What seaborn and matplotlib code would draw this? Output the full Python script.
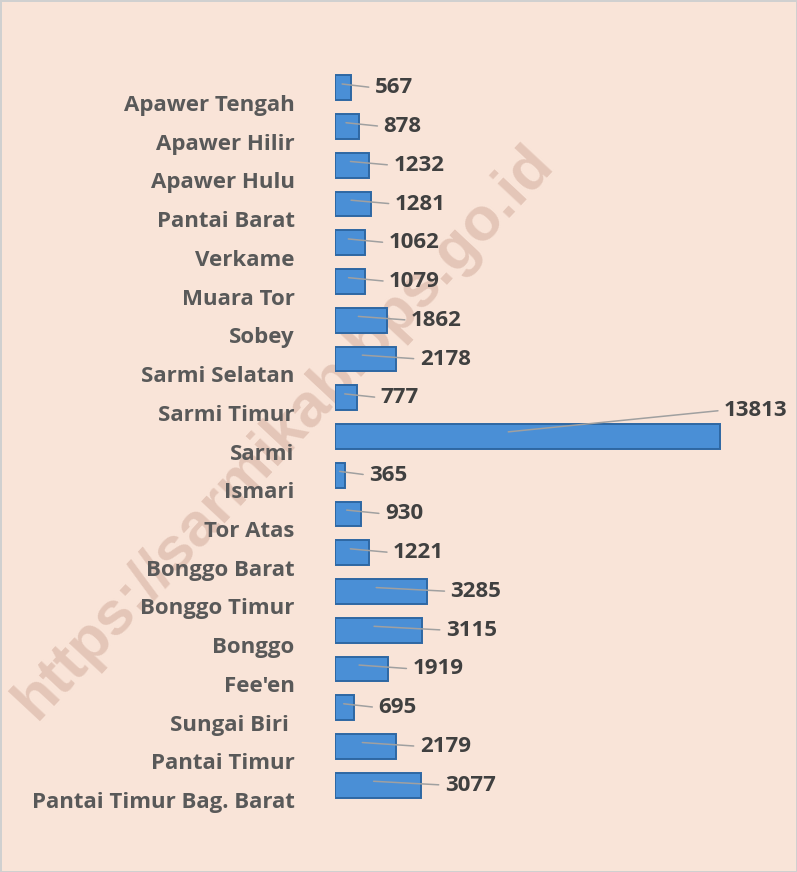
import matplotlib
matplotlib.use('Agg')
import matplotlib.pyplot as plt
import seaborn as sns
import pandas as pd
from matplotlib.transforms import ScaledTranslation

categories = ["Apawer Tengah", "Apawer Hilir", "Apawer Hulu", "Pantai Barat", "Verkame",
              "Muara Tor", "Sobey", "Sarmi Selatan", "Sarmi Timur", "Sarmi", "Ismari",
              "Tor Atas", "Bonggo Barat", "Bonggo Timur", "Bonggo", "Fee'en", "Sungai Biri ",
              "Pantai Timur", "Pantai Timur Bag. Barat"]
values = [567, 878, 1232, 1281, 1062, 1079, 1862, 2178, 777, 13813, 365, 930, 1221,
          3285, 3115, 1919, 695, 2179, 3077]

BG = '#F9E4D8'
sns.set_theme(style='white')
plt.rcParams['font.family'] = ['Open Sans', 'DejaVu Sans']

W, H = 797, 872
fig = plt.figure(figsize=(W / 100, H / 100), dpi=100, facecolor=BG,
                 edgecolor='#D0D0D0', linewidth=2)

ax = fig.add_axes([335 / W, 1 - 804.5 / H, 425 / W, 736 / H])
ax.set_zorder(1)
ax.patch.set_alpha(0)

df = pd.DataFrame({'kecamatan': categories, 'penduduk': values})
sns.barplot(data=df, y='kecamatan', x='penduduk', orient='h', color='#4A8FD6',
            saturation=1, width=0.64, edgecolor='#2E67A3', linewidth=1.4, ax=ax)

xmax = max(values) * 425 / 385
ax.set_xlim(0, xmax)
ax.set_ylim(len(categories) - 0.5, -0.5)
ax.set_xlabel('')
ax.set_ylabel('')
ax.set_xticks([])
for s in ax.spines.values():
    s.set_visible(False)

FS = 16
ax.tick_params(axis='y', length=0, pad=29)
ax.set_yticks(range(len(categories)))
ax.set_yticklabels(categories, fontsize=FS, fontweight='bold', color='#595959')
off = ScaledTranslation(0, -15 / 100, fig.dpi_scale_trans)
for lab in ax.get_yticklabels():
    lab.set_transform(lab.get_transform() + off)

px = xmax / 425  # data units per pixel
vmax = max(values)
for i, v in enumerate(values):
    if v == vmax:
        tx, ty = v + 4 * px, i - 0.68
        xy = (v * 0.45, i - 0.12)
    else:
        tx, ty = v + 24 * px, i
        xy = (v * 0.45, i - 0.1)
    ax.annotate(f"{v}", xy=xy, xytext=(tx, ty), textcoords='data',
                ha='left', va='center', fontsize=FS, fontweight='bold',
                color='#404040',
                arrowprops=dict(arrowstyle='-', color='#A0A0A0', lw=1.1,
                                shrinkA=2, shrinkB=0, relpos=(0, 0.5)))

fig.text(284 / W, 1 - 432 / H, 'https://sarmikab.bps.go.id', rotation=47,
         fontsize=44, fontweight='bold', color='#E4C6B8', ha='center',
         va='center', zorder=0.5, family=['Liberation Sans', 'DejaVu Sans'])

fig.savefig('out.png', dpi=100, facecolor=BG, edgecolor='#D0D0D0')
